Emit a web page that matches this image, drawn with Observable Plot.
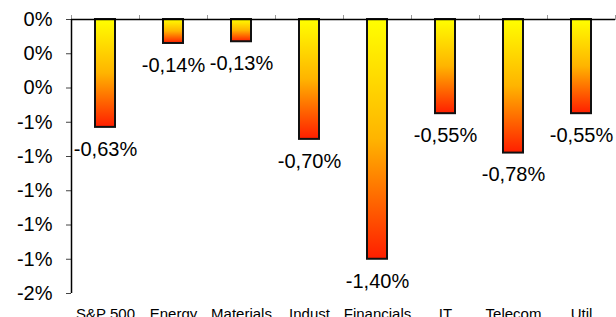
<!DOCTYPE html>
<html><head><meta charset="utf-8">
<script src="https://cdn.jsdelivr.net/npm/d3@7"></script>
<script src="https://cdn.jsdelivr.net/npm/@observablehq/plot@0.6"></script>
<style>body{margin:0;background:#fff}</style>
</head><body><div id="chart"></div>
<script>
const categories = ["S&P 500","Energy","Materials","Indust","Financials","IT","Telecom","Util"];
const values = [-0.63,-0.14,-0.13,-0.70,-1.40,-0.55,-0.78,-0.55];
const valueLabels = ["-0,63%","-0,14%","-0,13%","-0,70%","-1,40%","-0,55%","-0,78%","-0,55%"];
const yTicks = [0,-0.2,-0.4,-0.6,-0.8,-1.0,-1.2,-1.4,-1.6];
const yTickLabels = ["0%","0%","0%","-1%","-1%","-1%","-1%","-1%","-2%"];

const data = categories.map((c, i) => ({i, c, v: values[i], label: valueLabels[i]}));
const bounds = d3.range(categories.length + 1);

const plot = Plot.plot({
  width: 616,
  height: 317,
  marginLeft: 71,
  marginRight: 1,
  marginTop: 19,
  marginBottom: 24,
  style: {fontFamily: "'Liberation Sans', Arial, sans-serif", background: "#fff", overflow: "visible"},
  x: {domain: [0, categories.length]},
  y: {domain: [-1.6, 0]},
  marks: [
    Plot.rectY(data, {x1: d => d.i, x2: d => d.i + 1, y1: 0, y2: "v", insetLeft: 24, insetRight: 24,
      fill: "url(#barGrad)", stroke: "#111", strokeWidth: 2}),
    Plot.axisY({ticks: yTicks, tickFormat: d => yTickLabels[yTicks.indexOf(d)], tickSize: 5, tickPadding: 14,
      fontSize: 20, stroke: "#444", label: null}),
    Plot.axisX({ticks: bounds, anchor: "top", tickSize: 5, tickFormat: () => "", stroke: "#999", label: null}),
    Plot.ruleX([0], {stroke: "black", strokeWidth: 1.5}),
    Plot.ruleY([0], {stroke: "black", strokeWidth: 1.5}),
    Plot.text(data, {x: d => d.i + 0.5, y: "v", text: "label", dy: 22, fontSize: 20, fill: "black"}),
    Plot.text(data, {x: d => d.i + 0.5, y: -1.6, text: "c", dy: 15, lineAnchor: "top", fontSize: 15, fill: "black"})
  ]
});

d3.select(plot).insert("defs", ":first-child").html(
  '<linearGradient id="barGrad" x1="0" y1="0" x2="0" y2="1">' +
  '<stop offset="0" stop-color="#FFFF00"/>' +
  '<stop offset="0.5" stop-color="#FFB400"/>' +
  '<stop offset="1" stop-color="#FF1E00"/>' +
  '</linearGradient>');

document.getElementById("chart").appendChild(plot);
</script>
</body></html>
